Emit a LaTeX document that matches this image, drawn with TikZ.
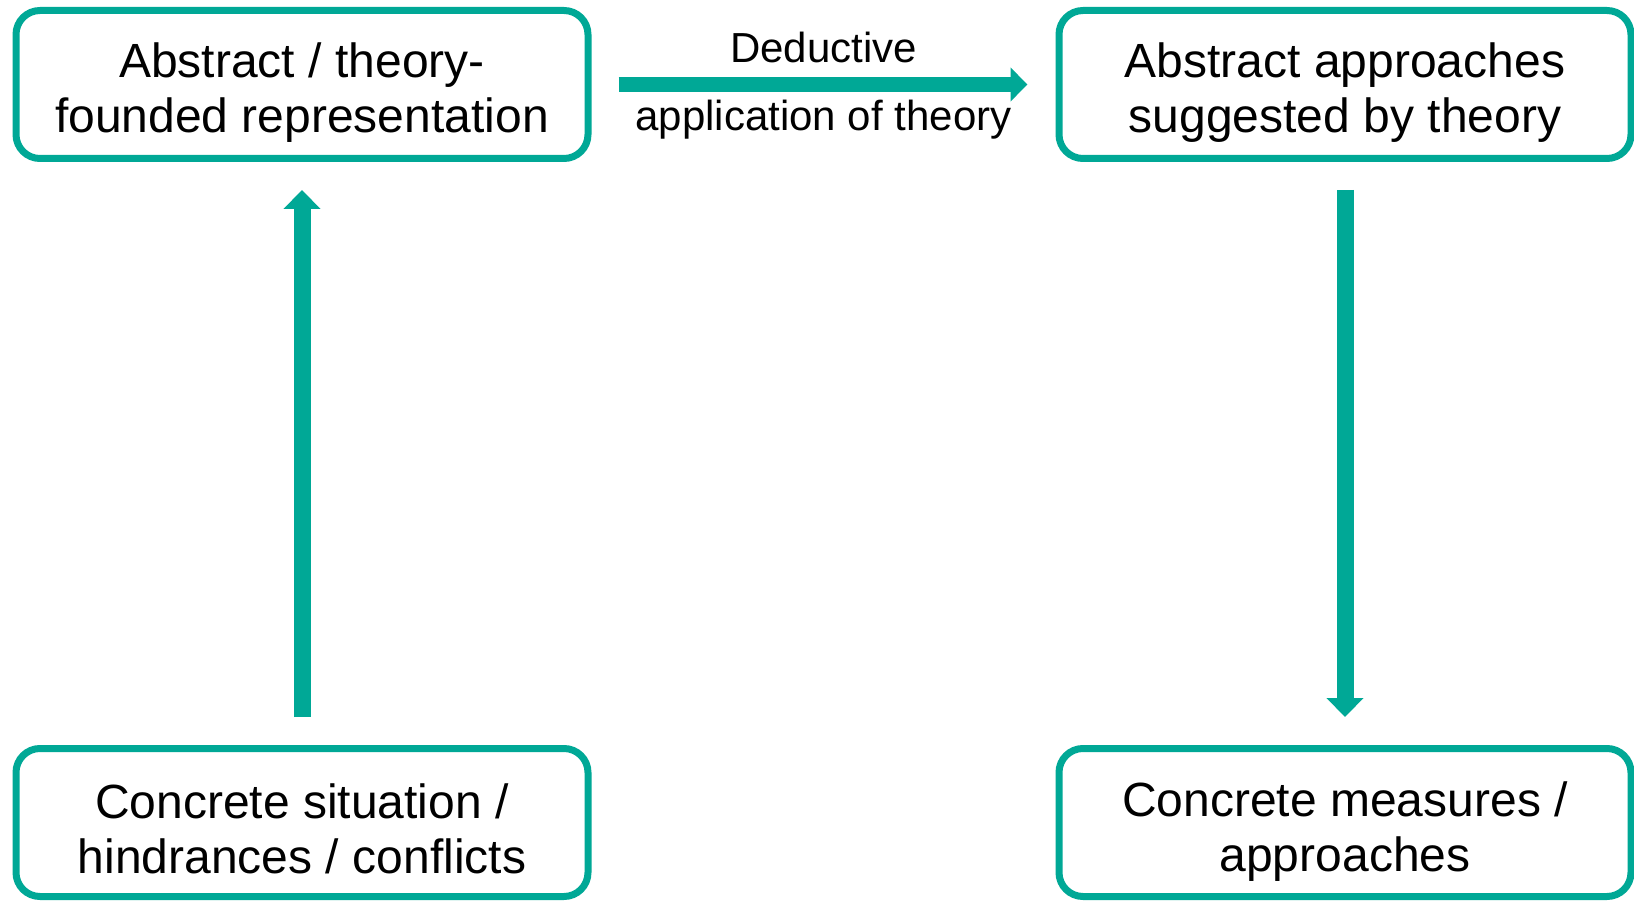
\documentclass[tikz,border=0pt]{standalone}
\usepackage{fontspec}
\setmainfont{Liberation Sans}
\usetikzlibrary{arrows.meta}
\definecolor{teal}{HTML}{00A896}
\tikzset{
  box/.style={draw=teal, line width=7pt, rounded corners=24pt, fill=white,
    minimum width=572pt, minimum height=148pt, inner sep=0pt},
  boxtext/.style={align=center, inner sep=0pt,
    font=\fontsize{48}{55}\selectfont},
  vflow/.style={draw=teal, line width=17pt,
    -{Triangle[width=36pt,length=19pt]}, shorten <=28pt, shorten >=28pt},
  hflow/.style={draw=teal, line width=15pt,
    -{Triangle[width=33pt,length=17pt]}, shorten <=27pt, shorten >=28pt},
  flowlabel/.style={font=\fontsize{42}{48}\selectfont, inner sep=0pt}
}
\begin{document}
\begin{tikzpicture}[x=1pt,y=-1pt]
  \useasboundingbox[fill=white] (0,0) rectangle (1634,901);

  % frames
  \node[box] (abs)  at (302,84.5)  {};
  \node[box] (sugg) at (1345,84.5) {};
  \node[box] (conc) at (302,822.5) {};
  \node[box] (meas) at (1345,822.5) {};

  % captions inside the frames
  \node[boxtext] (abs-t)  at ([yshift=-8pt]abs.center)  {Abstract / theory-\\founded representation};
  \node[boxtext] (sugg-t) at ([yshift=-8pt]sugg.center) {Abstract approaches\\suggested by theory};
  \node[boxtext] (conc-t) at ([yshift=-6pt]conc.center) {Concrete situation /\\hindrances / conflicts};
  \node[boxtext] (meas-t) at ([yshift=-9pt]meas.center) {Concrete measures /\\approaches};

  % flow arrows
  \draw[vflow] (conc.north) -- (abs.south);
  \draw[vflow] (sugg.south) -- (meas.north);
  \draw[hflow] (abs.east) -- (sugg.west)
    node[flowlabel, midway, yshift=37pt] (ded) {Deductive}
    node[flowlabel, midway, yshift=-35pt] (app) {application of theory};
\end{tikzpicture}
\end{document}
